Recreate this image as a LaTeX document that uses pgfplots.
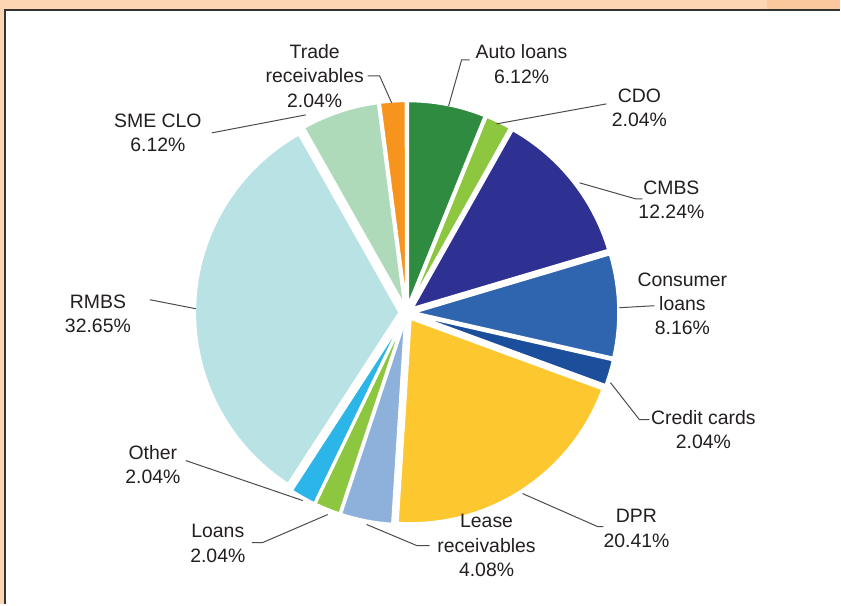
\documentclass[border=0pt]{standalone}
\usepackage{fontspec}
\setmainfont{Liberation Sans}
\usepackage{pgfplots}
\pgfplotsset{compat=1.18}
\definecolor{peach}{HTML}{FDD5B2}
\definecolor{peachd}{HTML}{FBC79D}
\definecolor{cAuto}{HTML}{2E8B3F}
\definecolor{cCDO}{HTML}{8DC63F}
\definecolor{cCMBS}{HTML}{2E3092}
\definecolor{cCons}{HTML}{2F64AE}
\definecolor{cCred}{HTML}{1B4E9B}
\definecolor{cDPR}{HTML}{FDC82F}
\definecolor{cLease}{HTML}{8EB1DC}
\definecolor{cLoans}{HTML}{8DC63F}
\definecolor{cOther}{HTML}{2BB5E8}
\definecolor{cRMBS}{HTML}{B8E2E4}
\definecolor{cSME}{HTML}{AEDAB9}
\definecolor{cTrade}{HTML}{F7941E}
\definecolor{txt}{HTML}{231F20}
\newcommand\cum{0}
\def\R{205}
\def\D{7}
\newcommand\slice[2]{%
  \pgfmathsetmacro\sA{90-3.6*\cum}%
  \pgfmathsetmacro\newcum{\cum+#1}%
  \xdef\cum{\newcum}%
  \pgfmathsetmacro\sB{90-3.6*\cum}%
  \pgfmathsetmacro\sM{(\sA+\sB)/2}%
  \pgfmathsetmacro\dx{\D*cos(\sM)}%
  \pgfmathsetmacro\dy{\D*sin(\sM)}%
  \pgfmathtruncatemacro\nn{max(2,ceil((\sA-\sB)/2))}%
  \gdef\plist{(0,0)}%
  \foreach \k in {0,...,\nn}{%
    \pgfmathsetmacro\ang{\sA-(\sA-\sB)*\k/\nn}%
    \xdef\plist{\plist (\ang,\R)}}%
  \edef\doit{\noexpand\addplot[data cs=polar, fill=#2, draw=white, line width=2.5bp, line join=round, line cap=round, xshift=\dx bp, yshift=\dy bp] coordinates {\plist (0,0)};}%
  \doit
}
\begin{document}
\begin{tikzpicture}
\begin{scope}[x=1bp,y=-1bp,yshift=605bp]
\fill[peach] (0,0) rectangle (841,605);
\fill[peachd] (768,0) rectangle (841,10);
\fill[white] (5,10) rectangle (841,605);
\draw[black!80, line width=1.5bp] (5,605) -- (5,10) -- (841,10);
\end{scope}
\begin{axis}[at={(0,0)}, anchor=south west, scale only axis,
  width=841bp, height=605bp, xmin=-407, xmax=434, ymin=-292, ymax=313,
  hide axis, clip=false]
\slice{6.12}{cAuto}
\slice{2.04}{cCDO}
\slice{12.24}{cCMBS}
\slice{8.16}{cCons}
\slice{2.04}{cCred}
\slice{20.41}{cDPR}
\slice{4.08}{cLease}
\slice{2.04}{cLoans}
\slice{2.04}{cOther}
\slice{32.65}{cRMBS}
\slice{6.12}{cSME}
\slice{2.04}{cTrade}
\end{axis}
\begin{scope}[x=1bp,y=-1bp,yshift=605bp, every node/.style={text=txt, font=\fontsize{19.5}{24.5}\selectfont, align=center, inner sep=0pt}]
\draw[black!70, line width=1bp] (368,76) -- (380,76) -- (392,103);
\draw[black!70, line width=1bp] (470,60) -- (462,60) -- (449,106);
\draw[black!70, line width=1bp] (607,104) -- (497,124);
\draw[black!70, line width=1bp] (643,199) -- (636,199) -- (580,183);
\draw[black!70, line width=1bp] (655,306) -- (620,308);
\draw[black!70, line width=1bp] (650,420) -- (640,420) -- (611,383);
\draw[black!70, line width=1bp] (604,527) -- (598,527) -- (523,494);
\draw[black!70, line width=1bp] (367,525) -- (417,546) -- (430,546);
\draw[black!70, line width=1bp] (252,543) -- (263,543) -- (328,515);
\draw[black!70, line width=1bp] (186,461) -- (303,501);
\draw[black!70, line width=1bp] (150,300) -- (196,309);
\draw[black!70, line width=1bp] (212,133) -- (306,115);
\node at (315,76) {Trade\\receivables\\2.04\%};
\node at (522,64) {Auto loans\\6.12\%};
\node at (640,108) {CDO\\2.04\%};
\node at (672,200) {CMBS\\12.24\%};
\node at (683,304) {Consumer\\loans\\8.16\%};
\node at (704,430) {Credit cards\\2.04\%};
\node at (637,529) {DPR\\20.41\%};
\node at (487,546) {Lease\\receivables\\4.08\%};
\node at (218,544) {Loans\\2.04\%};
\node at (153,465) {Other\\2.04\%};
\node at (98,314) {RMBS\\32.65\%};
\node at (158,133) {SME CLO\\6.12\%};
\end{scope}
\end{tikzpicture}
\end{document}
